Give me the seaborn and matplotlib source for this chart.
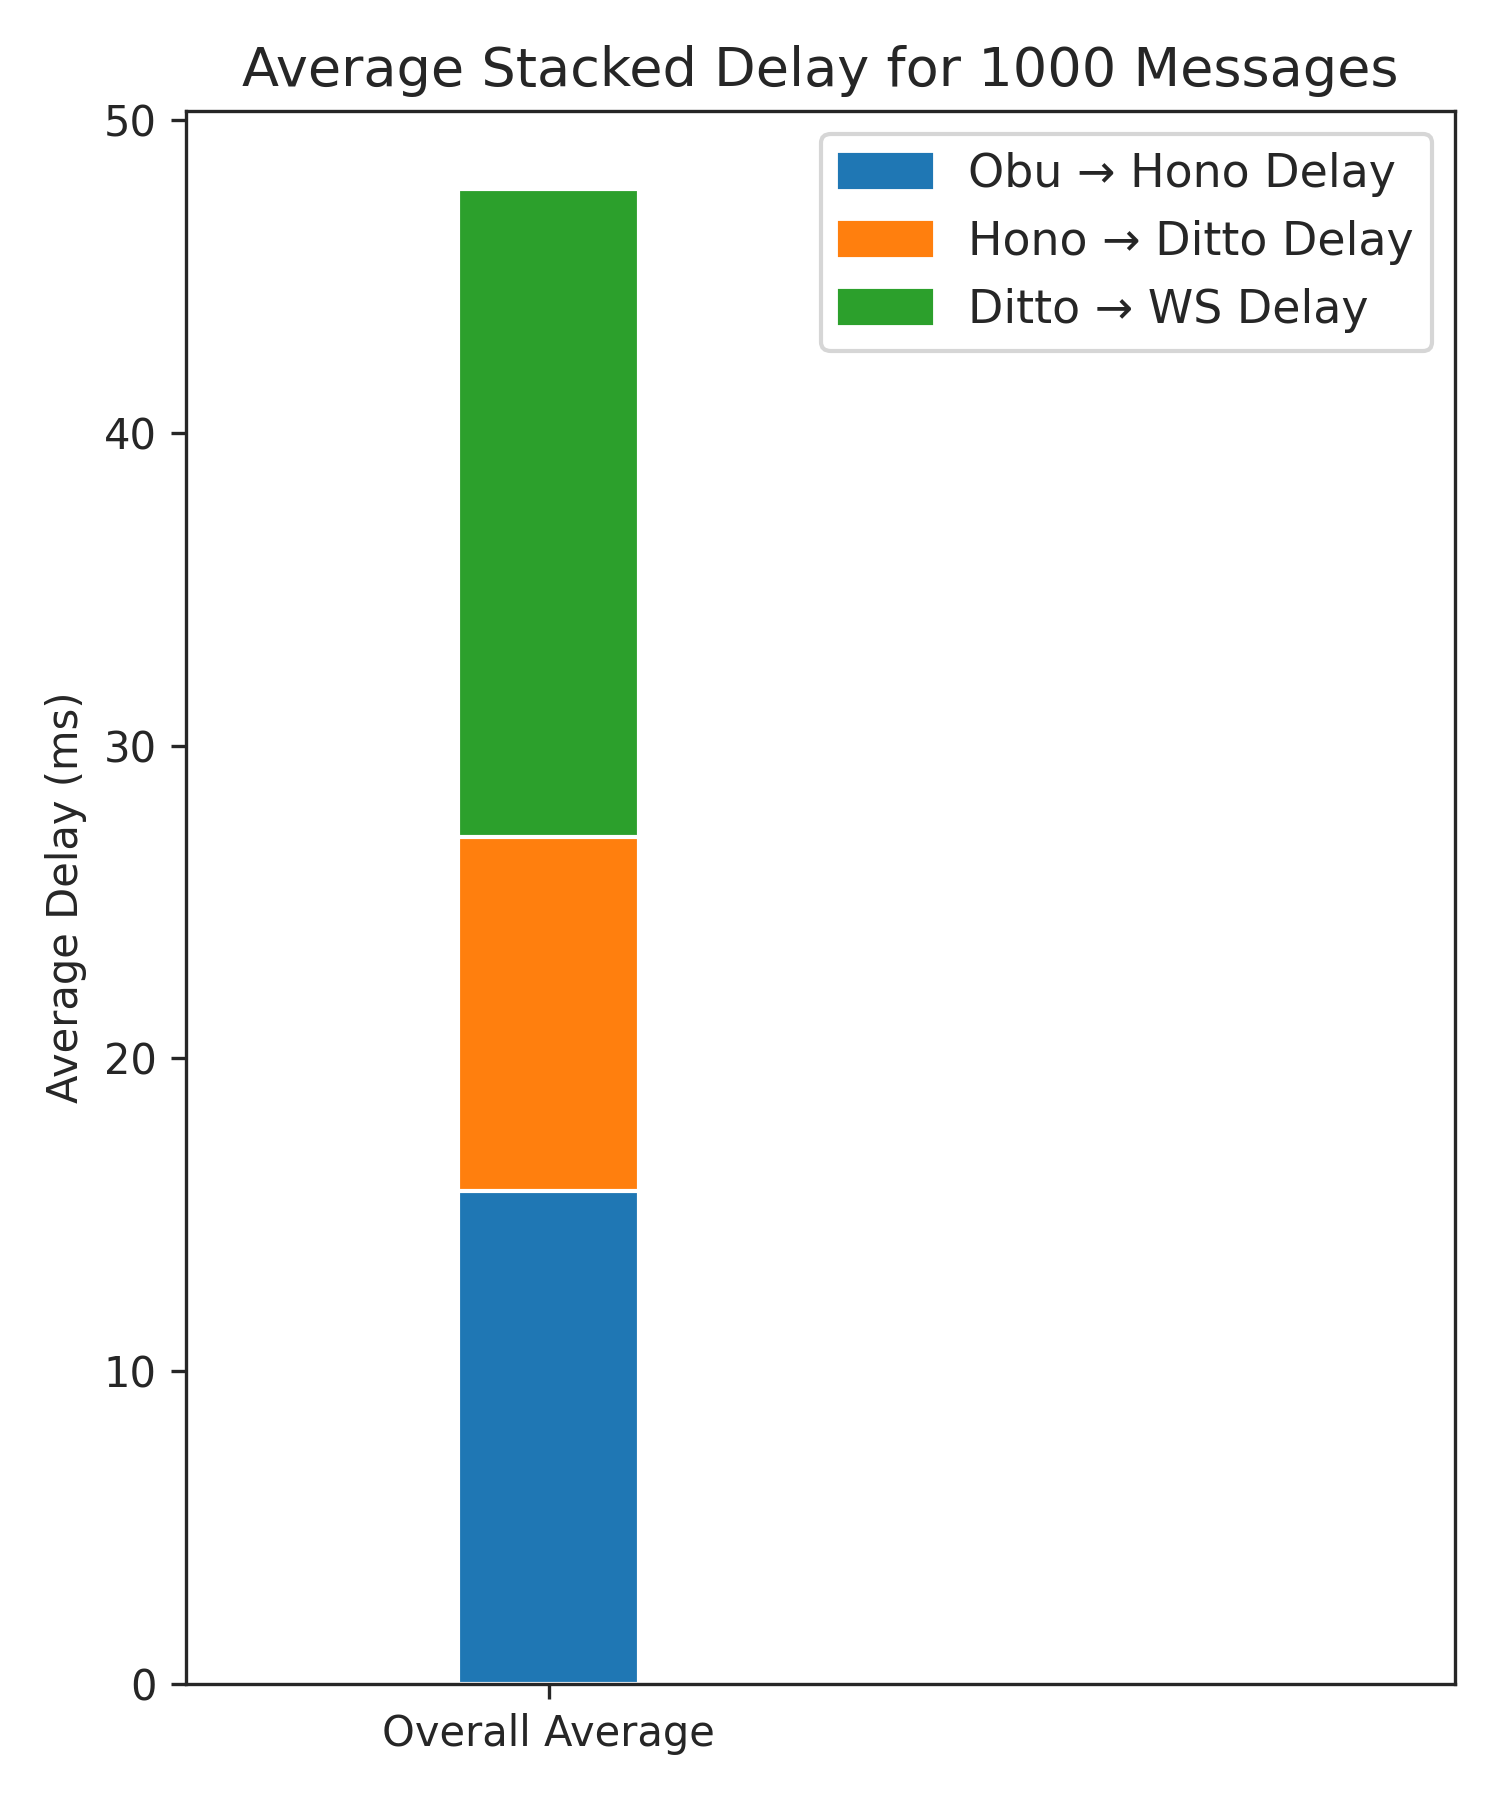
import numpy as np
import pandas as pd
import matplotlib
matplotlib.use("Agg")
import matplotlib.pyplot as plt
import seaborn as sns
from matplotlib.patches import Patch

category = ["Overall Average"]
segments = ["Obu → Hono Delay", "Hono → Ditto Delay", "Ditto → WS Delay"]
delays = [15.77, 11.31, 20.73]
colors = ["#1f77b4", "#ff7f0e", "#2ca02c"]

sns.set_style("ticks")
plt.rcParams['font.family'] = ['DejaVu Sans']

fig, ax = plt.subplots(figsize=(5, 6), dpi=300)

# stacked bar: draw cumulative totals from top down
cum = np.cumsum(delays)
for total, c in zip(cum[::-1], colors[::-1]):
    df = pd.DataFrame({'cat': category, 'val': [total]})
    sns.barplot(data=df, x='cat', y='val', color=c, width=0.5, saturation=1, ax=ax)

ax.set_xlim(-1.0, 2.5)
ax.set_ylim(0, 50.3)
ax.set_xlabel("")
ax.set_ylabel("Average Delay (ms)")
ax.set_title("Average Stacked Delay for 1000 Messages", fontsize=13)
handles = [Patch(color=c, label=s) for c, s in zip(colors, segments)]
ax.legend(handles=handles, loc='upper right', fontsize=11)

fig.tight_layout()
fig.savefig("out.png", dpi=300)
